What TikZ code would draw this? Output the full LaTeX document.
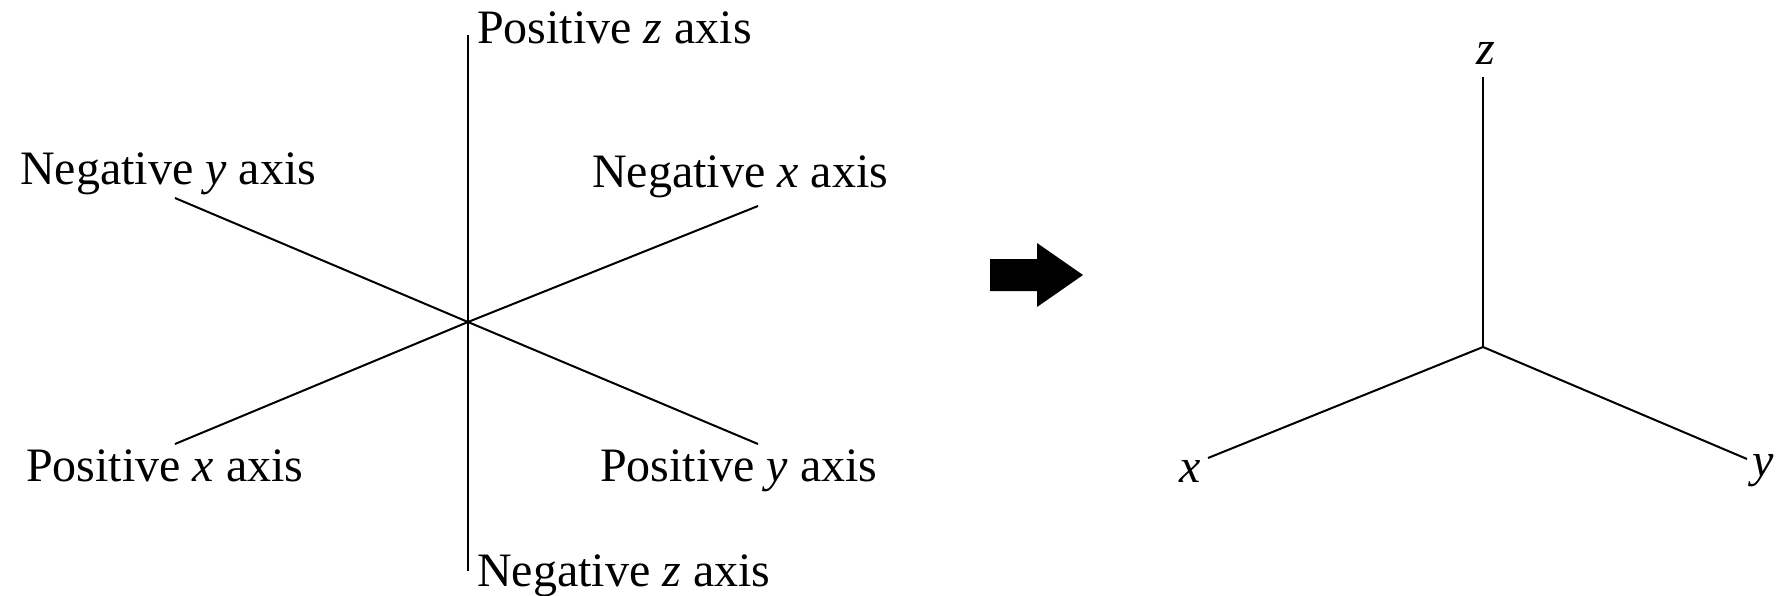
\documentclass[tikz,border=0pt]{standalone}
\usepackage{fontspec}
\setmainfont{Liberation Serif}
\begin{document}
\begin{tikzpicture}[x=1pt,y=-1pt,
  axis/.style={line width=2.2pt,black},
  lbl/.style={anchor=base west,inner sep=0pt,font=\fontsize{48}{56}\selectfont},
  bigarrow/.style={fill=black,draw=none}]
\useasboundingbox (0,0) rectangle (1776,595);
% left picture
\coordinate (O) at (468,322);
\coordinate (zt) at (468,35);
\coordinate (zb) at (468,571);
\coordinate (nyE) at (175,198);
\coordinate (pyE) at (758,444);
\coordinate (nxE) at (758,206);
\coordinate (pxE) at (175,444);
\draw[axis] (zt) -- (zb);
\draw[axis,line width=2pt] (nyE) -- (O) -- (pyE);
\draw[axis,line width=2pt] (nxE) -- (O) -- (pxE);
\node[lbl] (pz) at (477,43) {Positive \textit{z} axis};
\node[lbl] (nz) at (477,586) {Negative \textit{z} axis};
\node[lbl] (ny) at (20,184) {Negative \textit{y} axis};
\node[lbl] (nx) at (592,187) {Negative \textit{x} axis};
\node[lbl] (px) at (26,481) {Positive \textit{x} axis};
\node[lbl] (py) at (600,481) {Positive \textit{y} axis};
% arrow
\fill[bigarrow] (990,259) -- (1037,259) -- (1037,243) -- (1083,275) -- (1037,307) -- (1037,291) -- (990,291) -- cycle;
% right picture
\coordinate (O2) at (1483,347);
\coordinate (z2) at (1483,77);
\coordinate (x2) at (1208,458);
\coordinate (y2) at (1747,459);
\draw[axis] (O2) -- (z2);
\draw[axis,line width=2pt] (O2) -- (x2);
\draw[axis,line width=2pt] (O2) -- (y2);
\node[lbl] (zl) at (1476,64) {\textit{z}};
\node[lbl] (xl) at (1179,482) {\textit{x}};
\node[lbl] (yl) at (1752,476) {\textit{y}};
\end{tikzpicture}
\end{document}
